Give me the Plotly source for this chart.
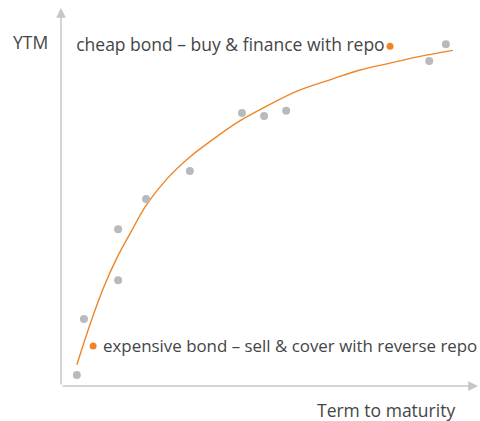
import plotly.graph_objects as go

# 散点（灰色）：观测到的债券
bond_term = [0.38, 0.55, 1.37, 1.37, 2.04, 3.09, 4.34, 4.87, 5.40, 8.83, 9.23]
bond_ytm = [0.29, 1.77, 2.80, 4.15, 4.95, 5.69, 7.22, 7.14, 7.28, 8.60, 9.04]

# 拟合曲线（从图上读取的点）
curve_term = [0.38, 0.70, 1.01, 1.34, 1.65, 2.06, 2.54, 3.09, 3.65, 4.24, 4.84,
              5.66, 6.45, 7.17, 7.89, 8.61, 9.40]
curve_ytm = [0.56, 1.64, 2.57, 3.39, 4.02, 4.81, 5.48, 6.06, 6.53, 6.98, 7.35,
             7.80, 8.10, 8.36, 8.54, 8.72, 8.88]

# 橙色标注点
cheap_term, cheap_ytm = [7.89], [8.99]
exp_term, exp_ytm = [0.77], [1.06]
cheap_label = "cheap bond – buy & finance with repo"
exp_label = "expensive bond – sell & cover with reverse repo"

grey = "#b9babe"
orange = "#ef8526"
axis_col = "#c6c6c6"
txt_col = "#454545"
font_fam = "Open Sans, Noto Sans, sans-serif"

fig = go.Figure()

fig.add_trace(go.Scatter(
    x=curve_term, y=curve_ytm, mode="lines",
    line=dict(color=orange, width=1.4, shape="spline", smoothing=1.0),
    hoverinfo="skip"
))

fig.add_trace(go.Scatter(
    x=bond_term, y=bond_ytm, mode="markers",
    marker=dict(color=grey, size=8)
))

fig.add_trace(go.Scatter(
    x=cheap_term, y=cheap_ytm, mode="markers+text",
    marker=dict(color=orange, size=7),
    text=[cheap_label], textposition="middle left",
    textfont=dict(size=17.5, color=txt_col, family=font_fam),
    cliponaxis=False
))

fig.add_trace(go.Scatter(
    x=exp_term, y=exp_ytm, mode="markers",
    marker=dict(color=orange, size=7)
))

# 下方标注文字（放在橙点右侧）
fig.add_annotation(x=exp_term[0] + 0.18, y=exp_ytm[0], text=exp_label,
                   showarrow=False, xanchor="left", yanchor="middle",
                   font=dict(size=16.9, color=txt_col, family=font_fam))

# 坐标轴箭头
fig.add_annotation(x=0, y=1, xref="paper", yref="paper", ax=0, ay=378,
                   showarrow=True, arrowhead=2, arrowsize=1.3, arrowwidth=1.5,
                   arrowcolor=axis_col, text="", standoff=0)
fig.add_annotation(x=1, y=0, xref="paper", yref="paper", ax=-417, ay=0,
                   showarrow=True, arrowhead=2, arrowsize=1.3, arrowwidth=1.5,
                   arrowcolor=axis_col, text="", standoff=0)

# 轴标题
fig.add_annotation(x=-0.026, y=0.91, xref="paper", yref="paper", text="YTM",
                   showarrow=False, xanchor="right", yanchor="middle",
                   font=dict(size=17.5, color=txt_col, family=font_fam))
fig.add_annotation(x=0.95, y=-0.063, xref="paper", yref="paper",
                   text="Term to maturity", showarrow=False,
                   xanchor="right", yanchor="middle",
                   font=dict(size=17.5, color=txt_col, family=font_fam))

fig.update_layout(
    width=480, height=421,
    margin=dict(l=61, r=2, t=8, b=35),
    showlegend=False,
    plot_bgcolor="white",
    paper_bgcolor="white",
    xaxis=dict(range=[0, 10], visible=False),
    yaxis=dict(range=[0, 10], visible=False),
)

# 去掉页面默认边距，让图从左上角开始
fig.write_html("out.html", config={"displayModeBar": False},
               post_script="document.body.style.margin='0';")
